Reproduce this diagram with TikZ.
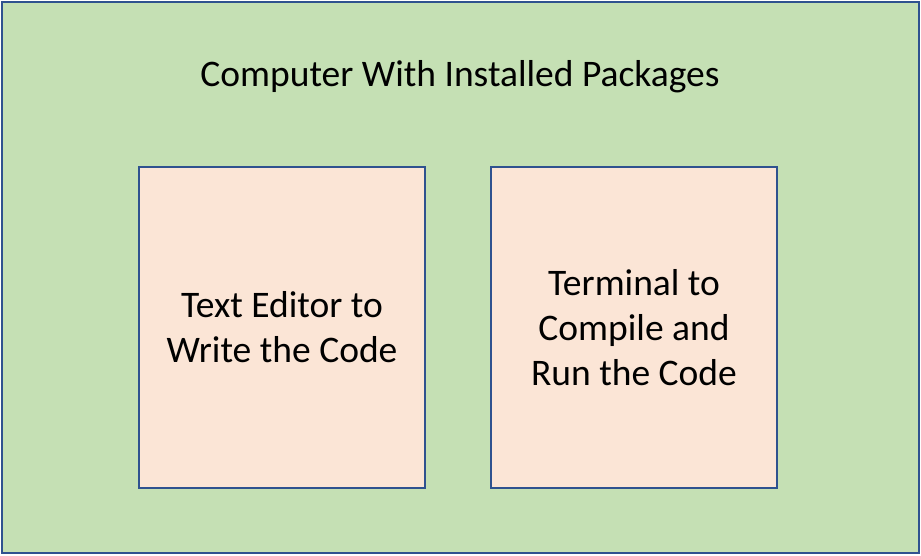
\documentclass[tikz,border=0pt]{standalone}
\usepackage{fontspec}
\setmainfont{Carlito}
\definecolor{bggreen}{HTML}{C5E0B4}
\definecolor{boxpink}{HTML}{FBE5D6}
\definecolor{edgeblue}{HTML}{2F528F}
\begin{document}
\begin{tikzpicture}[x=1pt,y=-1pt,
  panel/.style={draw=edgeblue,line width=1.5pt,fill=boxpink,minimum width=286pt,minimum height=321pt,inner sep=0pt,align=center,font=\fontsize{37.5}{45}\selectfont},
  frame/.style={draw=edgeblue,line width=2pt,fill=bggreen}]
\useasboundingbox (0,0) rectangle (921,555);
\node[frame,minimum width=917pt,minimum height=551pt,inner sep=0pt] (computer) at (460.5,277.5) {};
\node[font=\fontsize{37.5}{45}\selectfont] (title) at (460,77) {Computer With Installed Packages};
\node[panel] (editor) at (282,327.5) {Text Editor to\\Write the Code};
\node[panel] (terminal) at (634,327.5) {Terminal to\\Compile and\\Run the Code};
\end{tikzpicture}
\end{document}
